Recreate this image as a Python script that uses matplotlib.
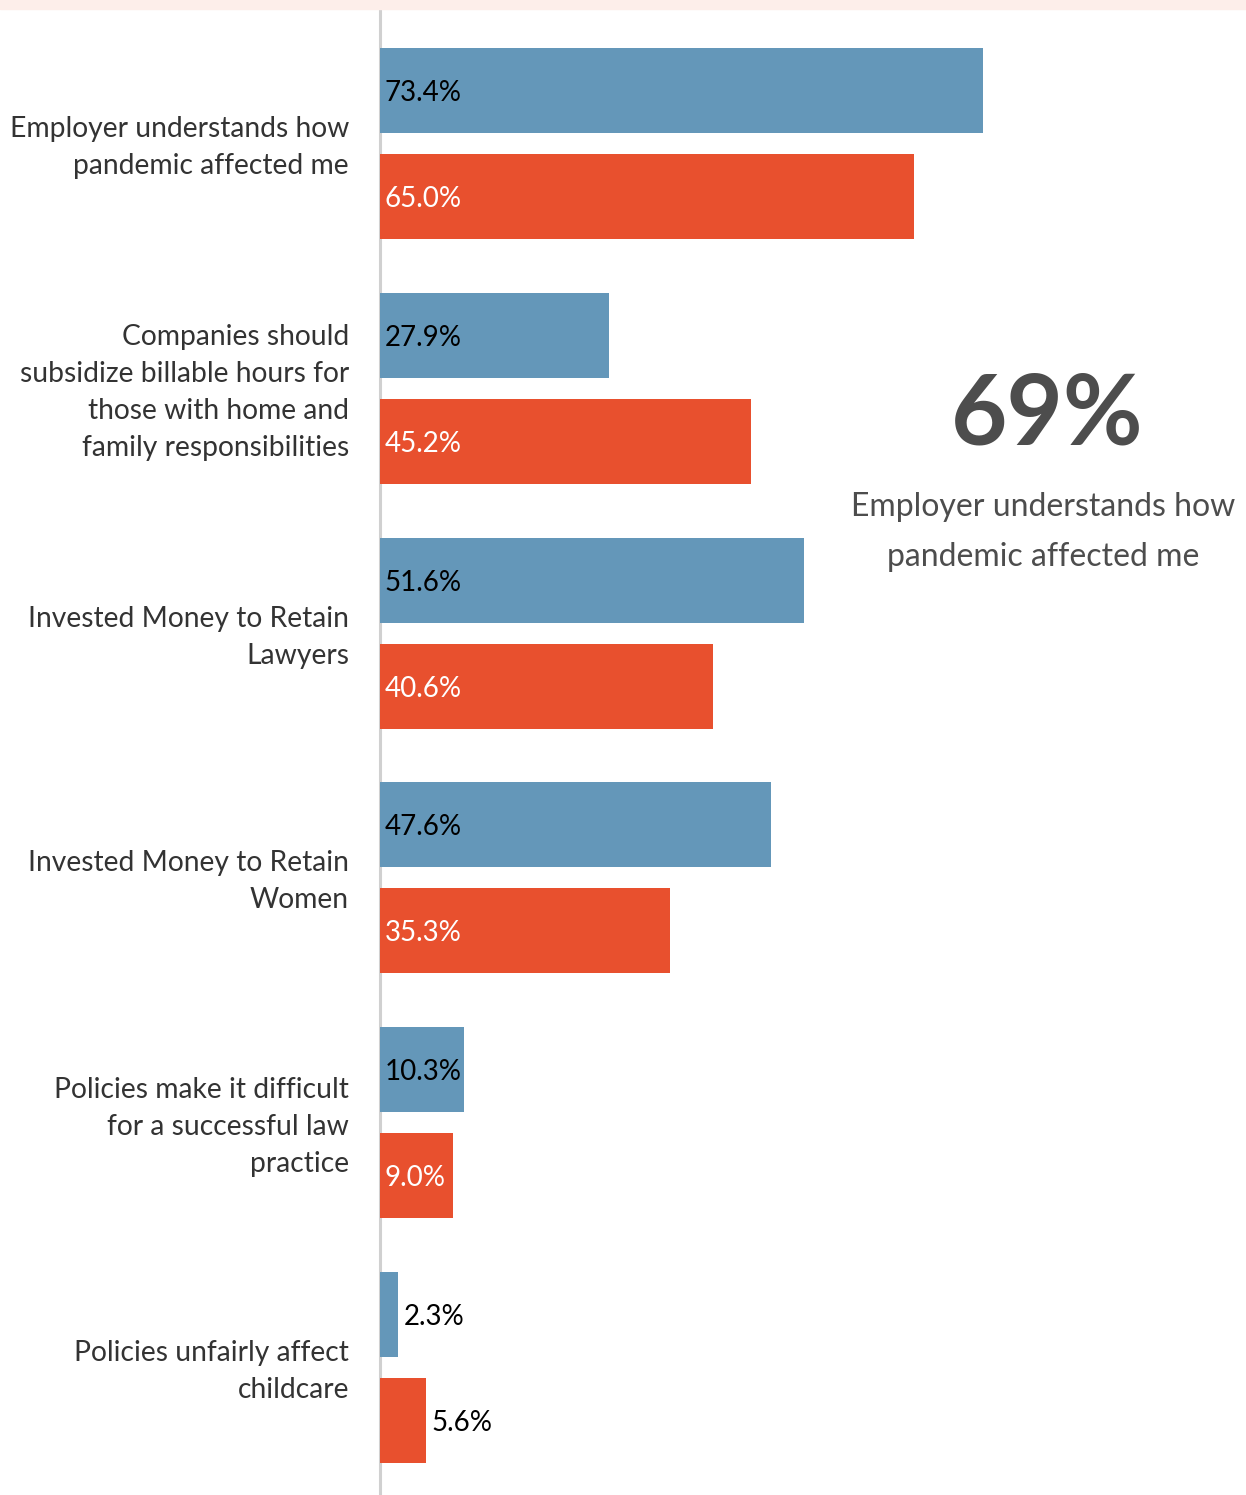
import numpy as np
import matplotlib.pyplot as plt

# ─── DATOS ───────────────────────────────────────────────────
categorias = ['Employer understands how\npandemic affected me',
              'Companies should\nsubsidize billable hours for\nthose with home and\nfamily responsibilities',
              'Invested Money to Retain\nLawyers',
              'Invested Money to Retain\nWomen',
              'Policies make it difficult\nfor a successful law\npractice',
              'Policies unfairly affect\nchildcare']
serie_azul = [73.4, 27.9, 51.6, 47.6, 10.3, 2.3]
serie_roja = [65.0, 45.2, 40.6, 35.3, 9.0, 5.6]
destacado = '69%'
destacado_texto = 'Employer understands how\npandemic affected me'

# ─── ESTILO ──────────────────────────────────────────────────
plt.rcParams['font.family'] = ['Lato', 'DejaVu Sans']
AZUL = '#6497b9'
ROJO = '#e8502e'
W, H = 1246, 1495

fig = plt.figure(figsize=(W / 100, H / 100), dpi=100)
fig.patches.append(plt.Rectangle((0, 1 - 9 / H), 1, 9 / H, transform=fig.transFigure,
                                 color='#fdeeea', zorder=0))

ax = fig.add_axes([379.5 / W, 0, 1 - 379.5 / W, 1 - 8 / H])
y = np.arange(len(categorias))
alto = 0.347
off = 0.2165
ax.barh(y - off, serie_azul, height=alto, color=AZUL, zorder=3)
ax.barh(y + off, serie_roja, height=alto, color=ROJO, zorder=3)

ax.set_xlim(0, 105.4)
ax.set_ylim(5.521, -0.5535)
for s in ['top', 'right', 'bottom']:
    ax.spines[s].set_visible(False)
ax.spines['left'].set_color('#d0d0d0')
ax.spines['left'].set_linewidth(2.2)
ax.spines['left'].set_zorder(1)
ax.set_xticks([])
# etiquetas de categoría un poco más arriba (~4 px)
ax.set_yticks(y - 0.016)
ax.set_yticklabels(categorias, fontsize=20.3, color='#333333', linespacing=1.52)
ax.tick_params(axis='y', length=0, pad=22)

# etiquetas de valor
for vals, desp, col_in in [(serie_azul, -off, 'black'), (serie_roja, off, 'white')]:
    for i, v in enumerate(vals):
        if v > 8:
            ax.text(0.65, i + desp + 0.01, f'{v:.1f}%', va='center', ha='left',
                    fontsize=20, color=col_in, zorder=4)
        else:
            ax.text(v + 0.7, i + desp + 0.01, f'{v:.1f}%', va='center', ha='left',
                    fontsize=20, color='black', zorder=4)

# cifra destacada
fig.text(1047 / W, 1 - 416 / H, destacado, fontsize=70, fontweight='bold',
         color='#4d4d4d', ha='center', va='center')
fig.text(1043 / W, 1 - 532 / H, destacado_texto, fontsize=23, color='#4d4d4d',
         ha='center', va='center', linespacing=1.8)

plt.savefig('out.png', dpi=100)
